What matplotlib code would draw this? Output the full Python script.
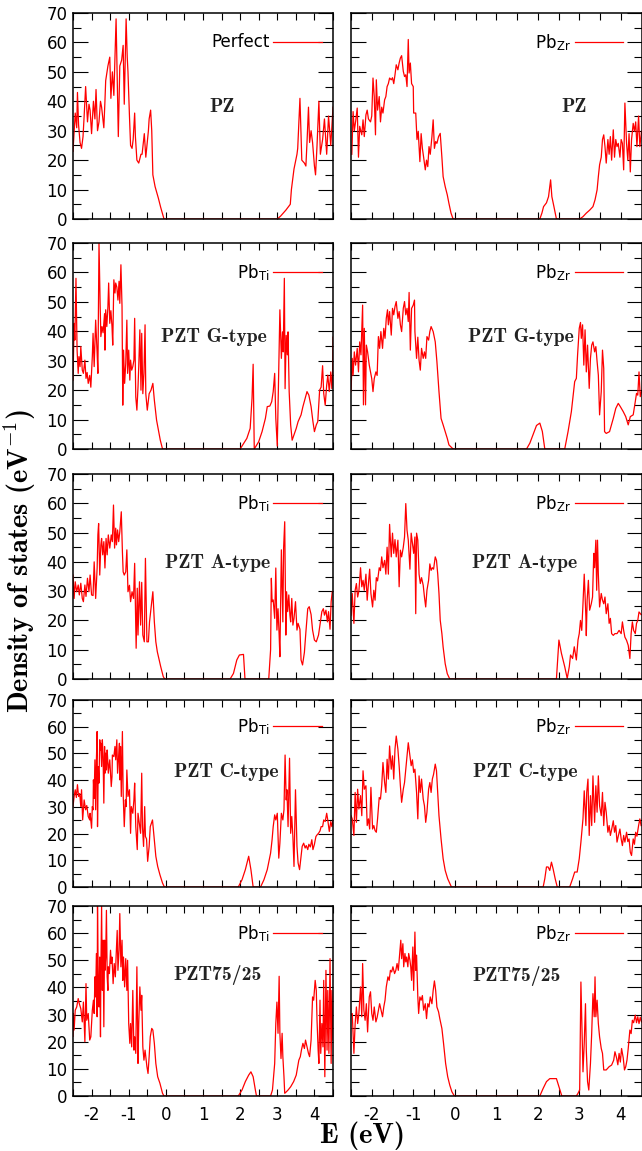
import os
import numpy as np
import matplotlib
matplotlib.use("Agg")
import matplotlib.pyplot as plt
from matplotlib import font_manager
from matplotlib.ticker import MultipleLocator

# (E in eV, DOS)
pz_perfect = [(-2.50, 23), (-2.44, 36), (-2.40, 31), (-2.38, 43), (-2.35, 32), (-2.31, 26), (-2.27, 24), (-2.23, 28),
              (-2.20, 35), (-2.16, 45), (-2.11, 33), (-2.07, 39), (-2.04, 37), (-2.00, 29), (-1.95, 40), (-1.91, 34),
              (-1.88, 44), (-1.84, 30), (-1.80, 33), (-1.76, 40), (-1.73, 38), (-1.67, 31), (-1.64, 40), (-1.62, 47),
              (-1.56, 52), (-1.51, 55), (-1.48, 41), (-1.44, 50), (-1.40, 42), (-1.34, 68), (-1.28, 28), (-1.24, 52),
              (-1.19, 54), (-1.15, 59), (-1.12, 39), (-1.07, 68), (-1.04, 55), (-1.02, 50), (-0.98, 35), (-0.95, 25),
              (-0.91, 24), (-0.88, 27), (-0.84, 36), (-0.82, 28), (-0.78, 20), (-0.73, 19), (-0.67, 22), (-0.64, 22),
              (-0.58, 29), (-0.54, 21), (-0.47, 30), (-0.45, 34), (-0.41, 37), (-0.38, 30), (-0.35, 15), (-0.29, 11),
              (-0.20, 7), (-0.14, 4), (-0.05, 0), (3.00, 0), (3.09, 1), (3.23, 3), (3.35, 5), (3.38, 10), (3.45, 17),
              (3.53, 22), (3.55, 24), (3.61, 41), (3.66, 20), (3.73, 19), (3.77, 18), (3.80, 26), (3.84, 38), (3.87, 26),
              (3.91, 30), (3.95, 26), (4.00, 18), (4.03, 15), (4.07, 25), (4.12, 40), (4.16, 22), (4.22, 27), (4.27, 34),
              (4.33, 22), (4.38, 35), (4.44, 25), (4.50, 38)]

pz_pbzr = [(-2.48, 22), (-2.45, 36.5), (-2.42, 30), (-2.39, 33), (-2.35, 37.7), (-2.32, 21), (-2.29, 31.5), (-2.24, 28.6),
           (-2.21, 33.7), (-2.18, 28), (-2.14, 35.4), (-2.11, 37), (-2.08, 34), (-2.03, 33), (-2.00, 35), (-1.97, 47.9),
           (-1.94, 41.6), (-1.91, 28.6), (-1.89, 47.3), (-1.86, 37), (-1.82, 41.6), (-1.79, 33), (-1.76, 38), (-1.73, 36),
           (-1.69, 40.5), (-1.66, 41.6), (-1.63, 45), (-1.60, 46), (-1.57, 47.9), (-1.53, 47.3), (-1.50, 48), (-1.47, 46),
           (-1.44, 49), (-1.41, 52.4), (-1.37, 50.7), (-1.34, 53), (-1.31, 54.7), (-1.28, 55.5), (-1.24, 50.2),
           (-1.21, 48.4), (-1.18, 49), (-1.15, 45), (-1.12, 61), (-1.10, 49.6), (-1.07, 53), (-1.04, 46), (-1.00, 45),
           (-0.99, 36), (-0.94, 36), (-0.91, 27), (-0.88, 29.8), (-0.84, 19.5), (-0.81, 29), (-0.78, 24), (-0.75, 21),
           (-0.71, 16.7), (-0.68, 20), (-0.65, 17.8), (-0.62, 24.6), (-0.59, 22), (-0.55, 28), (-0.52, 33.7), (-0.49, 24),
           (-0.46, 26.3), (-0.43, 25.7), (-0.39, 28), (-0.35, 29.1), (-0.31, 21), (-0.28, 14.4), (-0.23, 11), (-0.18, 8.2),
           (-0.14, 5.3), (-0.09, 2), (-0.04, 0), (2.05, 0), (2.10, 2), (2.14, 4.2), (2.21, 5.5), (2.26, 7.6), (2.31, 13.3),
           (2.34, 7.6), (2.39, 4.2), (2.45, 0), (3.01, 0), (3.09, 0.8), (3.17, 2), (3.25, 3), (3.33, 4.2), (3.38, 6.5),
           (3.43, 9.9), (3.46, 14.4), (3.49, 18.4), (3.53, 21), (3.56, 27), (3.59, 28.6), (3.62, 24.6), (3.65, 19),
           (3.69, 27), (3.72, 22), (3.75, 28), (3.78, 20), (3.82, 30.3), (3.85, 21), (3.88, 27), (3.91, 24.6), (3.94, 25.7),
           (3.98, 21), (4.01, 27), (4.04, 25.7), (4.07, 16.7), (4.10, 39.4), (4.14, 25.7), (4.17, 20), (4.20, 29), (4.23, 16),
           (4.26, 27), (4.30, 32.5), (4.33, 29.8), (4.36, 33), (4.39, 24.6), (4.43, 35), (4.46, 24.6), (4.50, 29.8)]

g_pbti = [(-2.50, 23.4), (-2.47, 42.7), (-2.45, 37), (-2.42, 58), (-2.39, 33.6), (-2.36, 25.7), (-2.34, 31.4), (-2.31, 28),
          (-2.29, 34.8), (-2.25, 26.8), (-2.22, 25.7), (-2.18, 30.2), (-2.15, 24), (-2.12, 26), (-2.09, 22.3), (-2.05, 25),
          (-2.02, 21), (-1.98, 31.4), (-1.96, 39.3), (-1.93, 28), (-1.89, 43.8), (-1.85, 32.5), (-1.83, 25.7), (-1.80, 70),
          (-1.77, 49.5), (-1.75, 38.2), (-1.72, 41.6), (-1.69, 39.5), (-1.65, 46), (-1.64, 33.6), (-1.62, 47.3),
          (-1.59, 41.6), (-1.56, 48.4), (-1.54, 56.4), (-1.51, 42.7), (-1.48, 47), (-1.45, 41.6), (-1.43, 35.3),
          (-1.40, 57.5), (-1.37, 53), (-1.35, 56.4), (-1.32, 55), (-1.29, 50.6), (-1.26, 57), (-1.24, 49.5), (-1.21, 62.6),
          (-1.18, 48.4), (-1.16, 14.9), (-1.14, 33.6), (-1.11, 22.3), (-1.08, 29.1), (-1.05, 43.8), (-1.03, 25.7),
          (-1.00, 33.6), (-0.97, 23.4), (-0.95, 30.2), (-0.92, 26.8), (-0.89, 28), (-0.86, 30.2), (-0.84, 44.4),
          (-0.81, 17.7), (-0.78, 13.2), (-0.75, 21), (-0.73, 28), (-0.70, 40.5), (-0.67, 20), (-0.65, 39.3), (-0.62, 18.8),
          (-0.59, 25.7), (-0.56, 42.2), (-0.54, 18.8), (-0.50, 13.2), (-0.45, 18.8), (-0.40, 20), (-0.35, 22.3),
          (-0.31, 16.6), (-0.25, 9.8), (-0.20, 6.4), (-0.15, 3), (-0.09, 0), (2.00, 0), (2.18, 3.6), (2.27, 7),
          (2.32, 17.2), (2.35, 28.8), (2.38, 0), (2.50, 2.5), (2.59, 5.9), (2.68, 10.4), (2.73, 14.4), (2.80, 14.6),
          (2.85, 16.1), (2.89, 19.5), (2.93, 25.7), (2.96, 10.4), (3.00, 1), (3.05, 34.6), (3.07, 47.3), (3.11, 30.8),
          (3.14, 39.8), (3.16, 33), (3.19, 58), (3.21, 20.5), (3.24, 38.6), (3.27, 32), (3.29, 39.8), (3.32, 19.5),
          (3.36, 8.2), (3.40, 3), (3.45, 4.8), (3.51, 7), (3.56, 9.3), (3.64, 11.6), (3.69, 14.4), (3.75, 17.2),
          (3.80, 19.5), (3.85, 18.3), (3.91, 14.4), (3.96, 9.3), (4.00, 5.9), (4.05, 8.2), (4.09, 9.3), (4.14, 20),
          (4.18, 21), (4.22, 28.3), (4.25, 18.9), (4.29, 14.9), (4.33, 21.7), (4.36, 25.1), (4.40, 19.5), (4.44, 26.2),
          (4.47, 20.5), (4.49, 26.2), (4.50, 38)]

g_pbzr = [(-2.50, 19.5), (-2.47, 30.8), (-2.45, 25.1), (-2.42, 33), (-2.39, 28.5), (-2.35, 34.2), (-2.32, 26.2),
          (-2.29, 36.4), (-2.26, 32), (-2.22, 48.9), (-2.20, 15), (-2.18, 41), (-2.15, 15), (-2.13, 35.3), (-2.10, 33),
          (-2.06, 28.5), (-2.03, 26.2), (-2.00, 23.9), (-1.97, 19.5), (-1.94, 23.9), (-1.90, 26.2), (-1.87, 25),
          (-1.84, 38.2), (-1.81, 34.2), (-1.78, 39.9), (-1.74, 34.2), (-1.71, 41), (-1.68, 37.6), (-1.65, 44.4),
          (-1.62, 47.3), (-1.60, 42.2), (-1.57, 46.7), (-1.53, 38.7), (-1.50, 47.8), (-1.47, 45.6), (-1.44, 48.4),
          (-1.41, 50.1), (-1.37, 44.4), (-1.34, 46.7), (-1.31, 42.2), (-1.28, 39.9), (-1.24, 47.8), (-1.21, 50.1),
          (-1.18, 45.6), (-1.15, 47.8), (-1.12, 43.3), (-1.10, 53.2), (-1.07, 33.6), (-1.04, 47.8), (-1.00, 48.9),
          (-0.97, 50.6), (-0.96, 39.9), (-0.92, 30.8), (-0.89, 38), (-0.86, 30.2), (-0.83, 26.8), (-0.80, 34.2),
          (-0.76, 30.8), (-0.73, 33), (-0.70, 30.8), (-0.67, 38.2), (-0.63, 37), (-0.60, 39.9), (-0.57, 41.6),
          (-0.52, 39.9), (-0.47, 36.4), (-0.43, 29.7), (-0.38, 19.5), (-0.33, 10.4), (-0.28, 8.2), (-0.23, 5.9),
          (-0.18, 3.6), (-0.14, 1.4), (-0.04, 0), (1.73, 0), (1.81, 2), (1.89, 5), (1.97, 8), (2.05, 8.8), (2.11, 6),
          (2.17, 0), (2.65, 0), (2.73, 5.9), (2.81, 12.7), (2.89, 22.9), (2.93, 24), (2.96, 32), (3.00, 41), (3.03, 43),
          (3.05, 37.6), (3.08, 42.2), (3.11, 28.5), (3.14, 40.5), (3.17, 26.2), (3.20, 35.3), (3.24, 20.6), (3.27, 30.8),
          (3.30, 35.3), (3.33, 36.4), (3.37, 33), (3.40, 34.8), (3.43, 29.7), (3.46, 25.1), (3.49, 11.6), (3.53, 19.5),
          (3.56, 33.6), (3.59, 27.4), (3.61, 5.9), (3.65, 5.3), (3.73, 5.9), (3.82, 10.4), (3.88, 13.8), (3.94, 15.5),
          (3.99, 14.4), (4.06, 12.7), (4.12, 11), (4.18, 8.2), (4.23, 11), (4.30, 11.6), (4.35, 16.1), (4.38, 18.9),
          (4.41, 18.3), (4.44, 26.2), (4.47, 17.8), (4.50, 19.5)]

a_pbti = [(-2.50, 35.5), (-2.47, 27.5), (-2.44, 33.2), (-2.40, 29.8), (-2.36, 32.1), (-2.33, 28.7), (-2.29, 32.7),
          (-2.25, 27.5), (-2.22, 26.4), (-2.18, 32.1), (-2.15, 28.2), (-2.11, 34.4), (-2.07, 29.8), (-2.04, 35.5),
          (-2.00, 28.7), (-1.96, 28.5), (-1.93, 40), (-1.89, 27.5), (-1.85, 37.9), (-1.83, 49.2), (-1.81, 53.1),
          (-1.78, 35.5), (-1.75, 45.8), (-1.73, 48), (-1.70, 42.4), (-1.67, 46.9), (-1.64, 37.9), (-1.61, 48),
          (-1.58, 42.4), (-1.55, 49.2), (-1.51, 44.7), (-1.47, 49.2), (-1.44, 46.9), (-1.41, 59.4), (-1.38, 44.7),
          (-1.35, 51.5), (-1.33, 45.8), (-1.30, 50.9), (-1.27, 46.9), (-1.24, 50.3), (-1.20, 57.1), (-1.17, 43.5),
          (-1.15, 36.6), (-1.12, 35.5), (-1.08, 36.6), (-1.05, 44.1), (-1.02, 29.8), (-0.98, 32), (-0.95, 26.4),
          (-0.91, 29.8), (-0.87, 27.5), (-0.84, 39.5), (-0.80, 10.5), (-0.77, 31), (-0.75, 15), (-0.71, 33.2),
          (-0.68, 18.4), (-0.65, 33), (-0.62, 15), (-0.58, 12.7), (-0.55, 41.2), (-0.51, 12.7), (-0.47, 12.7),
          (-0.44, 19.5), (-0.40, 24), (-0.35, 29.8), (-0.31, 19.5), (-0.27, 12.7), (-0.23, 9.3), (-0.14, 4.3),
          (-0.07, 0.8), (-0.03, 0), (1.73, 0), (1.82, 1.9), (1.91, 6.5), (1.98, 8.2), (2.09, 8.4), (2.13, 0), (2.77, 0),
          (2.82, 10), (2.84, 34.4), (2.86, 26.4), (2.89, 27), (2.93, 20.7), (2.96, 37.9), (2.99, 16.7), (3.02, 24),
          (3.05, 15), (3.07, 7.6), (3.11, 44.1), (3.15, 19.5), (3.17, 44.7), (3.20, 53.7), (3.23, 15), (3.25, 29.8),
          (3.28, 23), (3.31, 28.7), (3.34, 21.8), (3.36, 19.5), (3.39, 27.5), (3.42, 18.4), (3.45, 20.7), (3.49, 26.4),
          (3.53, 16.7), (3.56, 19), (3.61, 17), (3.64, 6.5), (3.68, 4.8), (3.73, 9.1), (3.77, 16), (3.82, 24),
          (3.86, 24.7), (3.91, 22), (3.95, 16.7), (4.00, 13.3), (4.05, 12.7), (4.11, 15), (4.16, 19.5), (4.20, 23),
          (4.24, 24), (4.27, 21.8), (4.31, 23.5), (4.35, 19.5), (4.38, 23), (4.42, 17), (4.45, 26.4), (4.48, 29.8),
          (4.50, 29.8)]

a_pbzr = [(-2.50, 21.8), (-2.47, 29.2), (-2.43, 19), (-2.40, 30.3), (-2.37, 32.6), (-2.34, 28), (-2.31, 30), (-2.27, 38),
          (-2.24, 31.5), (-2.21, 33.7), (-2.18, 30.3), (-2.14, 35.8), (-2.11, 26.9), (-2.08, 32.6), (-2.05, 37.5),
          (-2.02, 29.2), (-1.98, 24.6), (-1.95, 30.3), (-1.92, 26.9), (-1.89, 34.6), (-1.86, 33.5), (-1.82, 38),
          (-1.79, 37), (-1.76, 41.7), (-1.73, 38), (-1.69, 40.5), (-1.66, 35.8), (-1.63, 45), (-1.60, 35.8), (-1.57, 52.8),
          (-1.53, 41.7), (-1.50, 49.8), (-1.47, 42.9), (-1.44, 47.6), (-1.41, 41.7), (-1.37, 47.4), (-1.34, 31.5),
          (-1.31, 44), (-1.28, 41.7), (-1.24, 45), (-1.21, 48.5), (-1.18, 59.9), (-1.15, 50.8), (-1.12, 47.4),
          (-1.08, 37.5), (-1.05, 49.8), (-1.02, 46.3), (-0.99, 42.9), (-0.96, 48.5), (-0.94, 22.3), (-0.92, 49.8),
          (-0.89, 47.4), (-0.86, 35.8), (-0.83, 32.6), (-0.80, 34.6), (-0.76, 32), (-0.73, 28), (-0.70, 24.6),
          (-0.67, 30.3), (-0.63, 33.7), (-0.60, 39.3), (-0.57, 37.1), (-0.54, 38), (-0.51, 37.5), (-0.47, 41.7),
          (-0.44, 40.5), (-0.41, 35.8), (-0.38, 29.2), (-0.35, 20.1), (-0.31, 15.5), (-0.28, 10.9), (-0.23, 5.2),
          (-0.18, 1.8), (-0.12, 0), (2.45, 0), (2.51, 13.3), (2.57, 8.8), (2.65, 4.2), (2.71, 0.2), (2.76, 4.2),
          (2.79, 8.2), (2.84, 7), (2.88, 11), (2.93, 6.5), (2.97, 13.3), (3.00, 15.5), (3.03, 20), (3.06, 16.6),
          (3.09, 25.7), (3.12, 35.8), (3.16, 21.2), (3.17, 14.8), (3.19, 26.9), (3.22, 33.7), (3.25, 23.5), (3.29, 25.7),
          (3.32, 28), (3.35, 42.9), (3.37, 38), (3.40, 47.4), (3.42, 30.3), (3.44, 47.4), (3.46, 35.8), (3.49, 24.6),
          (3.53, 29.2), (3.56, 26.9), (3.59, 25.7), (3.62, 28), (3.65, 22.3), (3.69, 25.7), (3.72, 19), (3.75, 20.7),
          (3.78, 15.5), (3.82, 14.9), (3.86, 15.5), (3.91, 15.5), (3.96, 16.6), (4.01, 15.5), (4.04, 19.5), (4.07, 16.6),
          (4.10, 14.3), (4.14, 13.2), (4.18, 11.5), (4.22, 7), (4.25, 15.5), (4.28, 19.5), (4.31, 16.6), (4.35, 15.5),
          (4.38, 19), (4.41, 20), (4.44, 22.9), (4.49, 22)]

c_pbti = [(-2.50, 30.1), (-2.47, 33.9), (-2.44, 36.4), (-2.41, 33.5), (-2.38, 38.3), (-2.35, 33.9), (-2.32, 35),
          (-2.29, 30.1), (-2.27, 36.4), (-2.24, 25.1), (-2.20, 32.6), (-2.16, 28.9), (-2.13, 30.5), (-2.09, 26.4),
          (-2.05, 25.1), (-2.04, 27.6), (-2.00, 22), (-1.98, 30.1), (-1.96, 28.9), (-1.95, 40.1), (-1.93, 33.2),
          (-1.91, 47.6), (-1.89, 28.9), (-1.87, 47.6), (-1.85, 58.2), (-1.84, 22.6), (-1.82, 45.1), (-1.80, 38.9),
          (-1.78, 55.1), (-1.76, 51.3), (-1.75, 53.8), (-1.73, 45.1), (-1.71, 55.1), (-1.69, 48.8), (-1.67, 31.4),
          (-1.65, 52.6), (-1.64, 42.6), (-1.62, 50.1), (-1.60, 43.8), (-1.58, 51.3), (-1.56, 46.3), (-1.55, 42.6),
          (-1.53, 45.1), (-1.51, 47.6), (-1.49, 42.6), (-1.47, 37.6), (-1.45, 41.3), (-1.44, 49.4), (-1.40, 48.8),
          (-1.37, 52.6), (-1.35, 47.6), (-1.32, 55.1), (-1.30, 42.6), (-1.27, 48.8), (-1.25, 53.8), (-1.24, 40.1),
          (-1.22, 52.6), (-1.20, 33.9), (-1.17, 58.2), (-1.15, 35.1), (-1.12, 22.6), (-1.09, 32.6), (-1.07, 30.1),
          (-1.05, 43.8), (-1.02, 33.9), (-0.98, 36.4), (-0.95, 20.1), (-0.93, 30.1), (-0.89, 27.6), (-0.86, 32.6),
          (-0.84, 38.9), (-0.81, 22.6), (-0.77, 14), (-0.75, 27.6), (-0.72, 24.5), (-0.68, 20.1), (-0.65, 42.6),
          (-0.63, 22.6), (-0.60, 15.2), (-0.57, 30.1), (-0.55, 18.9), (-0.52, 18), (-0.49, 9.6), (-0.45, 15.2),
          (-0.42, 22.6), (-0.36, 25.1), (-0.32, 18.9), (-0.27, 11.5), (-0.22, 7.7), (-0.16, 4.6), (-0.09, 1.5),
          (-0.04, 0), (1.95, 0), (2.05, 2.7), (2.14, 6.5), (2.23, 11.5), (2.29, 6.5), (2.35, 0), (2.55, 0), (2.64, 2.7),
          (2.73, 6.5), (2.82, 12.7), (2.86, 17.7), (2.89, 22.6), (2.93, 27), (2.96, 25.1), (3.00, 27.6), (3.04, 10.8),
          (3.07, 16.4), (3.11, 27.6), (3.15, 25.1), (3.18, 28.9), (3.21, 49.4), (3.24, 32.6), (3.26, 36.4), (3.29, 22.6),
          (3.33, 48.2), (3.36, 20.1), (3.39, 26.4), (3.42, 18.9), (3.45, 7.7), (3.49, 36.4), (3.53, 15.2), (3.56, 9),
          (3.60, 6.5), (3.64, 11.5), (3.67, 15.2), (3.71, 16.4), (3.75, 14.6), (3.78, 15.5), (3.82, 14), (3.85, 16),
          (3.89, 15), (3.93, 17.7), (3.96, 14), (4.00, 16), (4.04, 18.9), (4.07, 19.5), (4.11, 20.1), (4.15, 21),
          (4.18, 22.6), (4.22, 22.6), (4.25, 25.1), (4.29, 24.5), (4.33, 27.6), (4.36, 25), (4.40, 20.8), (4.44, 24.5),
          (4.47, 22.6), (4.50, 25.1)]

c_pbzr = [(-2.50, 26.7), (-2.47, 25.5), (-2.43, 19.3), (-2.40, 35.4), (-2.37, 24.2), (-2.34, 36.6), (-2.31, 29.2),
          (-2.27, 34.2), (-2.24, 26.7), (-2.21, 43.5), (-2.18, 36.6), (-2.14, 37.9), (-2.11, 23), (-2.08, 25.5),
          (-2.05, 21.7), (-2.02, 37.3), (-1.98, 21.7), (-1.95, 23), (-1.92, 21.1), (-1.89, 20.5), (-1.86, 25.5),
          (-1.82, 33.5), (-1.79, 32.9), (-1.76, 37.9), (-1.73, 46.6), (-1.69, 39.1), (-1.66, 35.4), (-1.63, 47.8),
          (-1.60, 40.4), (-1.57, 52.8), (-1.53, 44.1), (-1.50, 49.1), (-1.47, 40.4), (-1.44, 51.6), (-1.41, 56.5),
          (-1.37, 51.6), (-1.34, 45.4), (-1.31, 37.9), (-1.28, 31.7), (-1.24, 36.6), (-1.21, 39.1), (-1.18, 44.1),
          (-1.15, 49.1), (-1.12, 54), (-1.08, 49.1), (-1.05, 45.4), (-1.02, 47.6), (-0.99, 42.9), (-0.96, 44.1),
          (-0.92, 35.4), (-0.89, 25.5), (-0.86, 41.6), (-0.83, 35.4), (-0.80, 40.4), (-0.76, 32.9), (-0.73, 30.4),
          (-0.70, 24.2), (-0.67, 28), (-0.63, 36.6), (-0.60, 39.1), (-0.57, 35.4), (-0.54, 40.4), (-0.51, 42.2),
          (-0.47, 46), (-0.44, 43.5), (-0.41, 35.4), (-0.38, 26.7), (-0.33, 18), (-0.28, 10.6), (-0.23, 6.2),
          (-0.17, 3.1), (-0.08, 0), (2.13, 0), (2.17, 3.1), (2.21, 7.5), (2.25, 7.5), (2.29, 6.2), (2.33, 9.3),
          (2.37, 6.8), (2.42, 3.1), (2.47, 0), (2.77, 0), (2.84, 3.1), (2.89, 5.6), (2.95, 5.6), (3.00, 10.6),
          (3.04, 16.8), (3.09, 25.5), (3.12, 36), (3.16, 23), (3.18, 35.4), (3.21, 40.4), (3.24, 19.3), (3.27, 34.2),
          (3.30, 23), (3.33, 41.6), (3.37, 24.2), (3.40, 37.9), (3.43, 28), (3.46, 41.6), (3.49, 30.4), (3.53, 26.7),
          (3.56, 35.4), (3.59, 23), (3.62, 31.7), (3.65, 28), (3.69, 20.5), (3.72, 23), (3.75, 19.3), (3.78, 21.5),
          (3.82, 24.8), (3.85, 20.5), (3.88, 23), (3.91, 16.8), (3.94, 19), (3.98, 21.7), (4.01, 18), (4.04, 15.5),
          (4.07, 19.3), (4.10, 16.8), (4.14, 20.5), (4.17, 17), (4.20, 18), (4.23, 13), (4.26, 11.8), (4.30, 18),
          (4.33, 16), (4.36, 20.5), (4.39, 19), (4.43, 23), (4.46, 25.5), (4.49, 23)]

p75_pbti = [(-2.50, 22), (-2.49, 30.4), (-2.47, 24.3), (-2.44, 31.6), (-2.40, 32.8), (-2.36, 35.9), (-2.33, 34),
            (-2.29, 32.2), (-2.25, 27.3), (-2.22, 34.6), (-2.18, 20), (-2.15, 41.4), (-2.13, 27.9), (-2.09, 30.4),
            (-2.05, 20.6), (-2.02, 21.8), (-1.98, 31.6), (-1.95, 35.3), (-1.93, 30.4), (-1.91, 43.9), (-1.89, 36.5),
            (-1.87, 52.5), (-1.85, 29.2), (-1.84, 70), (-1.82, 42.6), (-1.80, 32.8), (-1.78, 51.2), (-1.76, 21.8),
            (-1.75, 45.1), (-1.73, 70), (-1.71, 38.9), (-1.69, 57.4), (-1.67, 25.5), (-1.65, 57.4), (-1.64, 46.3),
            (-1.62, 51), (-1.60, 68.4), (-1.58, 43.9), (-1.56, 38.9), (-1.55, 47.6), (-1.52, 45.1), (-1.49, 53.7),
            (-1.47, 48.8), (-1.45, 51.2), (-1.42, 41.4), (-1.39, 48.8), (-1.36, 43.9), (-1.34, 51.2), (-1.31, 61),
            (-1.29, 46.3), (-1.26, 53.7), (-1.24, 67.2), (-1.21, 47.6), (-1.18, 57.4), (-1.16, 42.6), (-1.14, 51.2),
            (-1.11, 40.2), (-1.08, 50.6), (-1.05, 38.9), (-1.03, 50), (-1.00, 26.7), (-0.97, 19.4), (-0.95, 26.7),
            (-0.92, 18.1), (-0.89, 38.9), (-0.86, 16.9), (-0.84, 21.8), (-0.81, 15.7), (-0.78, 47.6), (-0.75, 12),
            (-0.73, 26.7), (-0.70, 40.2), (-0.67, 31.6), (-0.65, 37.1), (-0.62, 18.1), (-0.59, 13.2), (-0.56, 16.9),
            (-0.54, 14.5), (-0.51, 10.8), (-0.48, 8.3), (-0.45, 14.5), (-0.42, 21.8), (-0.38, 24.9), (-0.35, 24.3),
            (-0.31, 19.4), (-0.27, 12), (-0.22, 7.1), (-0.16, 4.7), (-0.09, 1), (-0.05, 0), (1.95, 0), (2.05, 2.2),
            (2.14, 5.3), (2.23, 7.7), (2.29, 8.9), (2.35, 7.1), (2.41, 2.2), (2.44, 0), (2.82, 0), (2.87, 2.2),
            (2.93, 12), (2.96, 26.7), (2.99, 34.6), (3.02, 23.1), (3.05, 44.1), (3.07, 23.1), (3.10, 13.8), (3.13, 23.1),
            (3.15, 14.5), (3.18, 7.1), (3.20, 1), (3.24, 1.5), (3.29, 2.2), (3.36, 3.4), (3.44, 5.3), (3.51, 7.7),
            (3.55, 10.8), (3.58, 13.2), (3.62, 14.5), (3.65, 16.9), (3.69, 19.4), (3.73, 17.5), (3.76, 20.6),
            (3.80, 18.1), (3.84, 15.7), (3.87, 14.5), (3.91, 20.6), (3.95, 36.5), (3.98, 35.3), (4.02, 42.6),
            (4.05, 38.9), (4.07, 27.9), (4.10, 16.9), (4.12, 12), (4.15, 35.3), (4.17, 15.7), (4.20, 26.7), (4.23, 18.1),
            (4.25, 42.6), (4.28, 7.1), (4.31, 46.3), (4.34, 16.9), (4.36, 38.9), (4.39, 15.7), (4.42, 50.6), (4.45, 12),
            (4.47, 38.9), (4.50, 20.6)]

p75_pbzr = [(-2.50, 30), (-2.47, 30.4), (-2.43, 15.7), (-2.40, 26.7), (-2.37, 32.8), (-2.34, 26.7), (-2.31, 30.4),
            (-2.27, 40.2), (-2.24, 29.2), (-2.22, 48.8), (-2.19, 31.6), (-2.16, 27.9), (-2.13, 34), (-2.10, 23.6),
            (-2.06, 36.5), (-2.03, 38.4), (-2.00, 30.4), (-1.97, 27.9), (-1.94, 32.8), (-1.90, 27.3), (-1.87, 29),
            (-1.84, 31.6), (-1.81, 34), (-1.78, 32), (-1.74, 29.2), (-1.71, 32.8), (-1.68, 35.3), (-1.65, 40.2),
            (-1.61, 43.9), (-1.58, 42.6), (-1.55, 46.3), (-1.52, 45.7), (-1.49, 47.6), (-1.45, 45.1), (-1.42, 46.3),
            (-1.39, 48.8), (-1.36, 46.3), (-1.33, 51.9), (-1.30, 57.4), (-1.28, 50.6), (-1.25, 56.1), (-1.23, 47.6),
            (-1.20, 52.5), (-1.18, 49.4), (-1.16, 51.2), (-1.13, 47.6), (-1.11, 52.5), (-1.08, 50), (-1.06, 47.6),
            (-1.04, 42.6), (-1.01, 54.9), (-0.99, 38.9), (-0.96, 60.4), (-0.94, 46.3), (-0.92, 51.9), (-0.89, 36.5),
            (-0.87, 30.4), (-0.84, 36.5), (-0.81, 35.3), (-0.78, 37), (-0.75, 31.6), (-0.71, 34), (-0.68, 28.5),
            (-0.65, 34), (-0.62, 32.8), (-0.59, 36.5), (-0.55, 34), (-0.52, 38.9), (-0.49, 42.4), (-0.46, 38.9),
            (-0.43, 32.8), (-0.39, 31), (-0.36, 28.5), (-0.31, 24.9), (-0.27, 19.4), (-0.22, 12), (-0.17, 7.1),
            (-0.12, 4), (-0.07, 1.6), (-0.01, 0), (2.05, 0), (2.13, 2.8), (2.21, 5.3), (2.29, 6.4), (2.45, 6.4),
            (2.51, 3.4), (2.58, 0), (2.93, 0), (2.97, 1), (3.01, 2.2), (3.04, 42), (3.07, 21.8), (3.09, 8.9), (3.12, 19.4),
            (3.15, 34), (3.17, 16.9), (3.20, 5.3), (3.23, 2.2), (3.27, 12), (3.30, 23.1), (3.33, 37.7), (3.36, 29.2),
            (3.38, 43.9), (3.40, 29.2), (3.43, 35.3), (3.46, 26.7), (3.49, 21.8), (3.53, 17.5), (3.56, 15.7),
            (3.59, 9.6), (3.65, 9.6), (3.72, 10.8), (3.78, 11.4), (3.83, 13.2), (3.86, 16.3), (3.90, 14), (3.93, 11.5),
            (3.96, 15.7), (3.99, 12.5), (4.02, 17.5), (4.06, 14), (4.09, 9.6), (4.12, 10.8), (4.15, 13.2), (4.18, 17.5),
            (4.22, 24.3), (4.25, 23), (4.28, 27.9), (4.31, 27), (4.35, 29.8), (4.38, 27), (4.41, 29.2), (4.44, 26.7),
            (4.47, 29), (4.50, 27.3)]

# rows top->bottom, columns left/right
curves = [[pz_perfect, pz_pbzr], [g_pbti, g_pbzr], [a_pbti, a_pbzr], [c_pbti, c_pbzr], [p75_pbti, p75_pbzr]]
keys = [["Perfect", r"Pb$_{\mathregular{Zr}}$"]] + [[r"Pb$_{\mathregular{Ti}}$", r"Pb$_{\mathregular{Zr}}$"]] * 4
titles = ["PZ", "PZT G-type", "PZT A-type", "PZT C-type", "PZT75/25"]
title_pos = [[(1.51, 38), (2.87, 38)], [(1.30, 38.2), (1.59, 38)], [(1.40, 39.7), (1.69, 39.7)],
             [(1.63, 43), (1.69, 43)], [(1.40, 44.6), (1.49, 44.2)]]

plt.rcParams["font.family"] = "DejaVu Sans"
plt.rcParams["mathtext.fontset"] = "cm"
plt.rcParams["axes.unicode_minus"] = False

cmb_path = os.path.join(matplotlib.get_data_path(), "fonts", "ttf", "cmb10.ttf")
title_font = font_manager.FontProperties(fname=cmb_path, size=14.2)
label_font = font_manager.FontProperties(fname=cmb_path, size=20.5)

W, H = 642, 1151
fig = plt.figure(figsize=(W / 100, H / 100), dpi=100)

rows_px = [(13, 219), (243, 449), (474, 679), (700, 887), (906, 1096)]
cols_px = [(73, 333), (351, 641.5)]
key_right = [0.957, 0.938]

for i, (top, bot) in enumerate(rows_px):
    for j, (left, right) in enumerate(cols_px):
        ax = fig.add_axes([left / W, 1 - bot / H, (right - left) / W, (bot - top) / H])
        pts = np.array(curves[i][j])
        ax.plot(pts[:, 0], pts[:, 1], color="red", lw=0.9, label=keys[i][j])
        ax.set_xlim(-2.5, 4.5)
        ax.set_ylim(0, 70)
        ax.xaxis.set_major_locator(MultipleLocator(1))
        ax.xaxis.set_minor_locator(MultipleLocator(0.5))
        ax.yaxis.set_major_locator(MultipleLocator(10))
        ax.yaxis.set_minor_locator(MultipleLocator(5))
        ax.tick_params(which="both", direction="in", top=True, right=True, width=0.8, labelsize=12)
        ax.tick_params(axis="x", which="both", length=5, pad=7)
        ax.tick_params(axis="y", which="major", length=11, pad=4)
        ax.tick_params(axis="y", which="minor", length=5.5)
        for s in ax.spines.values():
            s.set_linewidth(1.1)
        if j == 1:
            ax.tick_params(axis="y", labelleft=False)
        if i < len(rows_px) - 1:
            ax.tick_params(axis="x", labelbottom=False)
        tx, ty = title_pos[i][j]
        ax.text(tx, ty, titles[i], fontproperties=title_font, ha="center", va="center", color="#222222")
        ax.legend(loc="center right", bbox_to_anchor=(key_right[j], 60 / 70), frameon=False, fontsize=12,
                  handlelength=2.9, handletextpad=0.25, borderpad=0, borderaxespad=0, markerfirst=False)

fig.text(0.032, 1 - 561 / H, "Density of states (eV$^{-1}$)", fontproperties=label_font,
         rotation=90, ha="center", va="center")
fig.text(363 / W, 1 - 1136 / H, "E (eV)", fontproperties=label_font, ha="center", va="center")

fig.savefig("out.png", dpi=100)
